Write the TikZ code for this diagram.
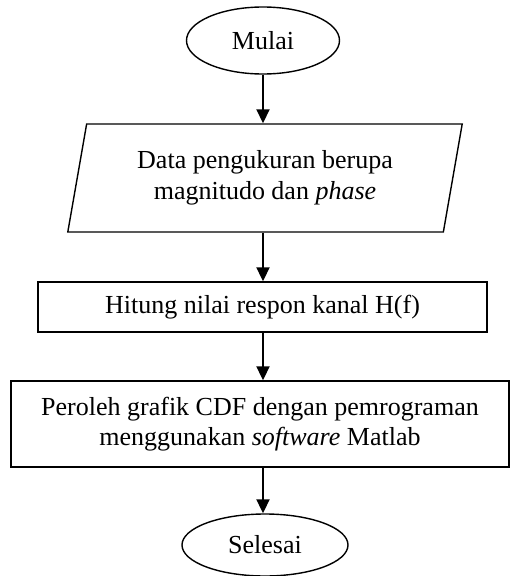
\documentclass[tikz,border=0pt]{standalone}
\usepackage{fontspec}
\setmainfont{Liberation Serif}
\usetikzlibrary{shapes.geometric,arrows.meta}
\tikzset{
  base/.style={draw=black, line width=1.4pt, inner sep=0pt, align=center, font=\fontsize{26}{30.5}\selectfont},
  term/.style={base, ellipse},
  proc/.style={base, rectangle},
  io/.style={base, trapezium, trapezium left angle=76, trapezium right angle=104, trapezium stretches=true},
  arr/.style={line width=1.9pt, -{Triangle[length=14pt,width=13pt]}}
}
\begin{document}
\begin{tikzpicture}[x=1pt,y=-1pt]
\useasboundingbox (0,0) rectangle (511,576);
\node[term, minimum width=153pt, minimum height=67pt] (start) at (263,40.5) {Mulai};
\node[io, minimum width=396pt, minimum height=108pt] (data) at (265,178) {Data pengukuran berupa\\magnitudo dan \textit{phase}};
\node[proc, minimum width=449pt, minimum height=50pt] (hitung) at (262.5,307) {Hitung nilai respon kanal H(f)};
\node[proc, minimum width=498pt, minimum height=86pt] (cdf) at (260,424) {Peroleh grafik CDF dengan pemrograman\\menggunakan \textit{software} Matlab};
\node[term, minimum width=166pt, minimum height=62pt] (end) at (265,545) {Selesai};
\draw[arr] (start) -- (start |- data.north);
\draw[arr] (start |- data.south) -- (start |- hitung.north);
\draw[arr] (start |- hitung.south) -- (start |- cdf.north);
\draw[arr] (start |- cdf.south) -- (start |- end.north);
\end{tikzpicture}
\end{document}
